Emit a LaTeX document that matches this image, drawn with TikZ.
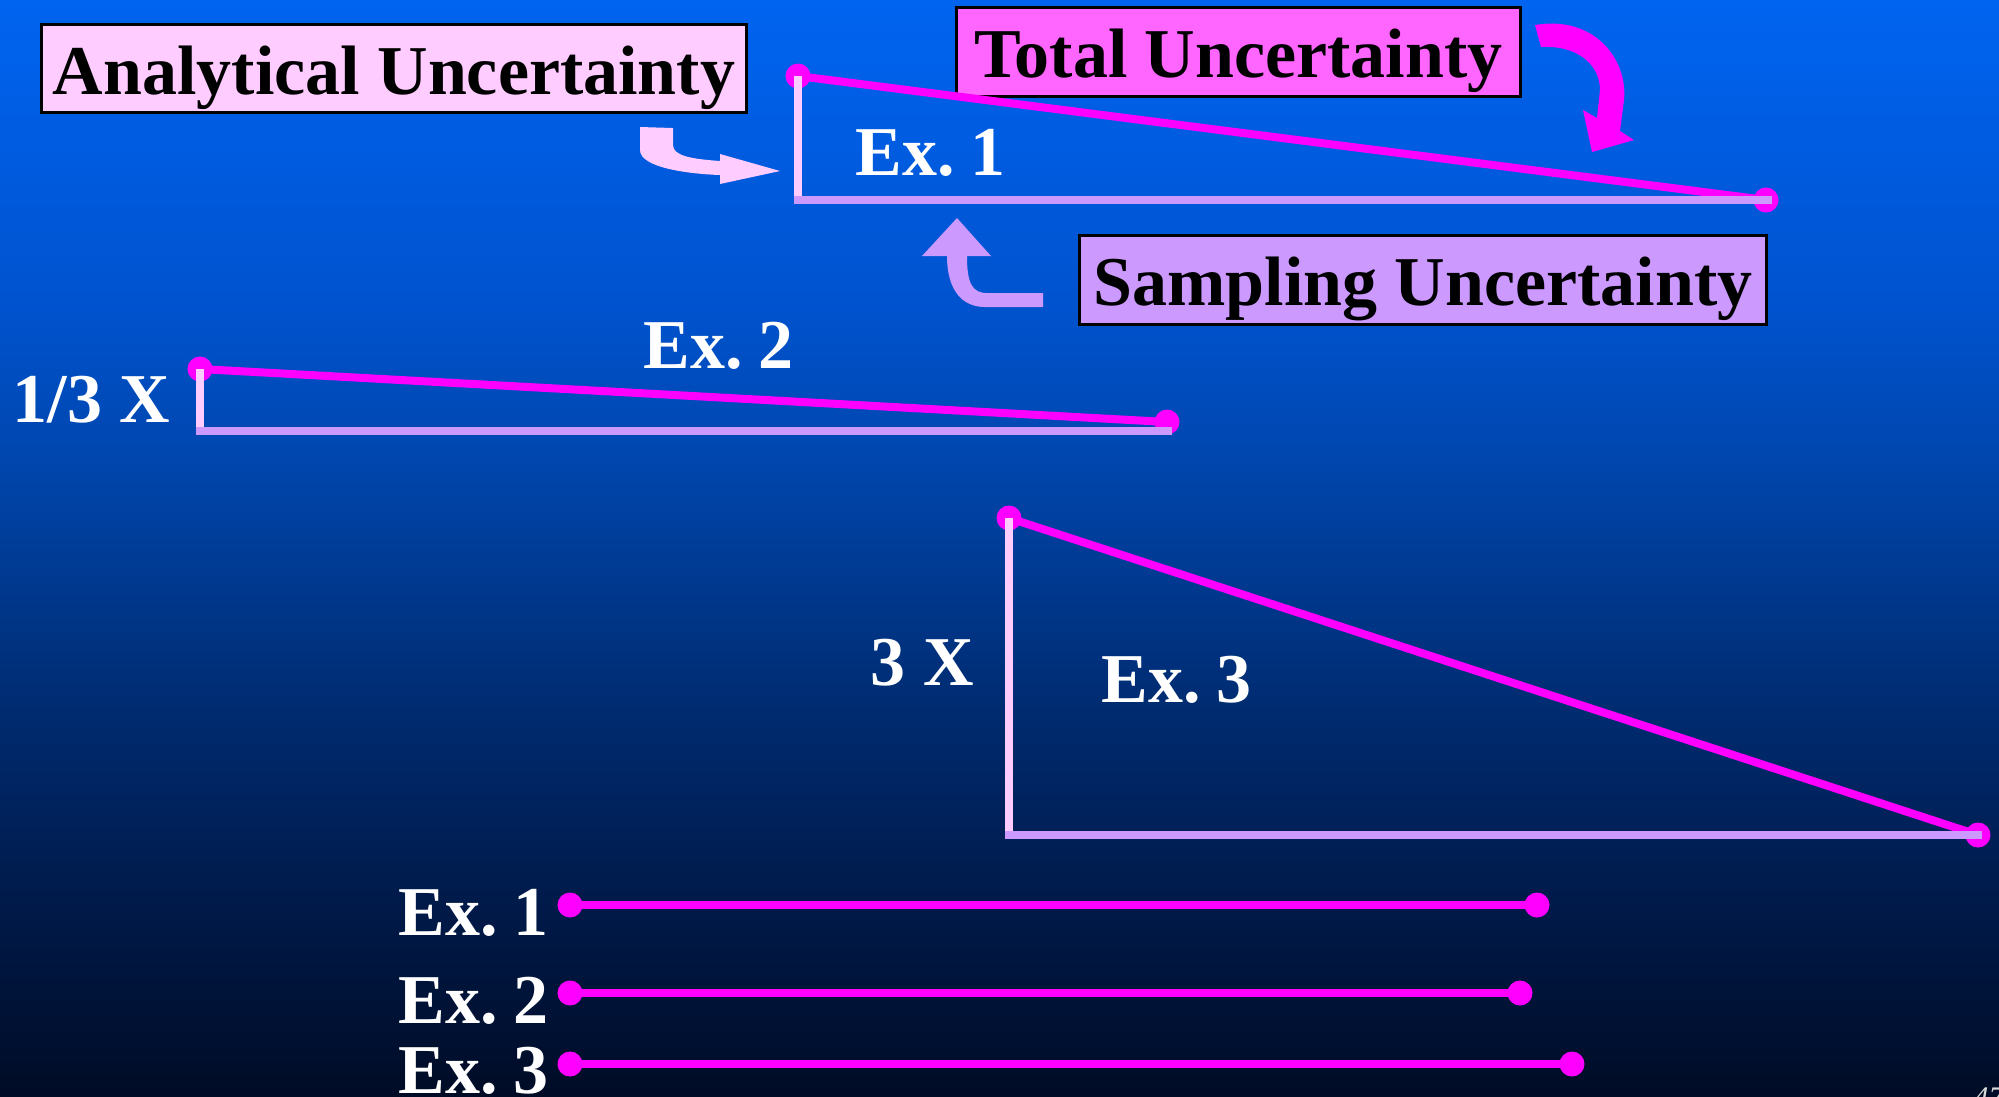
\documentclass[tikz,border=0pt]{standalone}
\usepackage{fontspec}
\setmainfont{Liberation Serif}
\definecolor{mag}{HTML}{FF00FF}
\definecolor{pinkl}{HTML}{FFCCFF}
\definecolor{lav}{HTML}{CC99FF}
\definecolor{totfill}{HTML}{FF66FF}
\definecolor{bg0}{HTML}{000C26}
\definecolor{bg1}{HTML}{001A4A}
\definecolor{bg2}{HTML}{002C72}
\definecolor{bg3}{HTML}{0047B0}
\definecolor{bg4}{HTML}{0053CF}
\definecolor{bg5}{HTML}{0064F0}
\pgfdeclareverticalshading{bgshade}{100bp}{color(0bp)=(bg0); color(25bp)=(bg0); color(34bp)=(bg1); color(43bp)=(bg2); color(54.5bp)=(bg3); color(61.3bp)=(bg4); color(75bp)=(bg5); color(100bp)=(bg5)}
\newcommand{\exsp}{\hspace{0.22em}}
\begin{document}
\begin{tikzpicture}[x=0.01cm,y=-0.01cm,
  bigfont/.style={font=\bfseries\fontsize{19.9pt}{24pt}\selectfont},
  lbl/.style={bigfont, inner sep=0pt, anchor=base west, text=white},
  ubox/.style={bigfont, draw=black, line width=0.03cm, inner xsep=0pt, inner ysep=0pt, text height=0.70cm, text depth=0.185cm, align=center},
  dot/.style={circle, fill=mag, inner sep=0pt, minimum size=0.25cm},
  hyp/.style={draw=mag, line width=0.08cm},
  vleg/.style={draw=pinkl, line width=0.075cm},
  hleg/.style={draw=lav, line width=0.08cm},
]
\useasboundingbox (0,0) rectangle (1999,1096);
\shade[shading=bgshade] (0,0) rectangle (1999,1096);

% label boxes
\node[ubox, fill=pinkl, minimum width=7.04cm] (anal) at (394,68.5) {Analytical Uncertainty};
\node[ubox, fill=totfill, minimum width=5.63cm] (total) at (1238.5,52) {Total Uncertainty};
\node[ubox, fill=lav, minimum width=6.86cm] (samp) at (1423,280) {Sampling Uncertainty};

% block arrows
\fill[pinkl] (640,127) -- (640,150) .. controls (640,168) and (690,174) .. (720,175) -- (720,184) -- (780,171) -- (720,154) -- (720,161) .. controls (692,159) and (673,156) .. (673,145) -- (673,128) -- cycle;
\fill[lav] (1043,293) -- (987,293) .. controls (972,293) and (967,283) .. (967,256) -- (991,256) -- (957,218) -- (922,256) -- (947,256) .. controls (947,290) and (962,307) .. (985,307) -- (1043,307) -- cycle;
\fill[mag] (1535,25) .. controls (1595,15) and (1628,60) .. (1624,100) -- (1620,131) -- (1634,140) -- (1592,152) -- (1583,110) -- (1597,118) -- (1600,90) .. controls (1600,65) and (1578,45) .. (1541,47) -- cycle;

% Ex. 1 triangle
\node[dot] (a1) at (798,76) {};
\node[dot] (b1) at (1766,200) {};
\coordinate (c1) at (798,200);
\coordinate (e1) at (1772,200);
\draw[hyp] (a1.center) -- (b1.center);
\draw[vleg] (a1.center) -- ([yshift=-0.04cm]c1);
\draw[hleg] ([xshift=-0.04cm]c1) -- (e1);
\node[lbl] (ex1) at (855,175) {Ex.\exsp 1};

% Ex. 2 triangle
\node[dot] (a2) at (200,369) {};
\node[dot] (b2) at (1167,422) {};
\coordinate (c2) at (200,431);
\coordinate (e2) at (1172,431);
\draw[hyp] (a2.center) -- (b2.center);
\draw[vleg] (a2.center) -- ([yshift=-0.04cm]c2);
\draw[hleg] ([xshift=-0.04cm]c2) -- (e2);
\node[lbl] (ex2) at (643,368) {Ex.\exsp 2};
\node[lbl] (third) at (12,422) {1/3 X};

% Ex. 3 triangle
\node[dot] (a3) at (1009,518) {};
\node[dot] (b3) at (1978,835) {};
\coordinate (c3) at (1009,835);
\coordinate (e3) at (1982,835);
\draw[hyp] (a3.center) -- (b3.center);
\draw[vleg] (a3.center) -- ([yshift=-0.04cm]c3);
\draw[hleg] ([xshift=-0.04cm]c3) -- (e3);
\node[lbl] (ex3) at (1101,702) {Ex.\exsp 3};
\node[lbl] (three) at (870,685) {3 X};

% comparison bars
\node[dot] (l1) at (570,905) {};
\node[dot] (r1) at (1537,905) {};
\draw[hyp] (l1.center) -- (r1.center);
\node[lbl] (bx1) at (398,935) {Ex.\exsp 1};
\node[dot] (l2) at (570,993) {};
\node[dot] (r2) at (1520,993) {};
\draw[hyp] (l2.center) -- (r2.center);
\node[lbl] (bx2) at (398,1023) {Ex.\exsp 2};
\node[dot] (l3) at (570,1064) {};
\node[dot] (r3) at (1572,1064) {};
\draw[hyp] (l3.center) -- (r3.center);
\node[lbl] (bx3) at (398,1093) {Ex.\exsp 3};

% page number (cut at the edge, as in the reference)
\node[font=\itshape\fontsize{8.5pt}{10pt}\selectfont, text=white!85!black, anchor=north west, inner sep=0pt] (pg) at (1973,1087) {47};
\end{tikzpicture}
\end{document}
